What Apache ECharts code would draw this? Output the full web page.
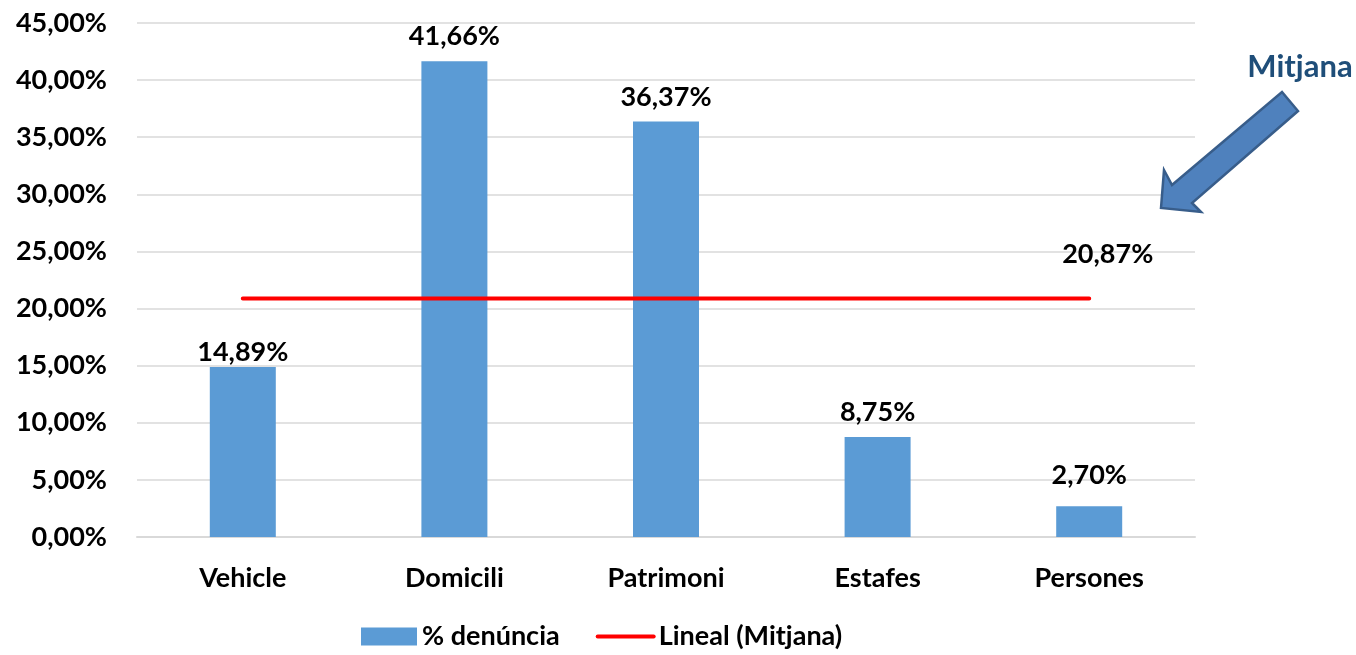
<!DOCTYPE html>
<html>
<head>
<meta charset="utf-8">
<script src="https://cdn.jsdelivr.net/npm/echarts@6/dist/echarts.min.js"></script>
<style>
  html, body { margin: 0; padding: 0; background: #fff; }
  #main { width: 1356px; height: 655px; }
</style>
</head>
<body>
<div id="main"></div>
<script>
var categories = ['Vehicle', 'Domicili', 'Patrimoni', 'Estafes', 'Persones'];
var denuncia = [14.89, 41.66, 36.37, 8.75, 2.70];
var mitjana = [20.87, 20.87, 20.87, 20.87, 20.87];

var FONT = 'Lato';
var FS = 27;

function pct(v){
    return v.toFixed(2).replace('.', ',') + '%';
}

// labels sit a bit differently above some bars (moved by hand in the original)
function labelGap(i){
    if (i === 0) return 1;
    if (i === 4) return 17;
    return 11;
}

var chart = echarts.init(document.getElementById('main'));

var option = {
    backgroundColor: '#fff',
    animation: false,
    textStyle: { fontFamily: FONT, fontWeight: 'bold', color: '#000' },
    grid: { left: 137, right: 161, top: 23, bottom: 118 },
    legend: {
        bottom: 0,
        left: 356,
        itemWidth: 56,
        itemHeight: 18,
        itemGap: 36,
        textStyle: { fontFamily: FONT, fontWeight: 'bold', fontSize: FS, color: '#000' },
        data: [
            { name: '% denúncia', icon: 'rect' },
            { name: 'Lineal (Mitjana)', itemStyle: { opacity: 0 }, lineStyle: { width: 4 } }
        ]
    },
    xAxis: {
        type: 'category',
        data: categories,
        axisTick: { show: false },
        axisLine: { lineStyle: { color: '#d9d9d9', width: 2 } },
        axisLabel: { margin: 28, fontSize: FS, fontWeight: 'bold', fontFamily: FONT, color: '#000' }
    },
    yAxis: {
        type: 'value',
        min: 0,
        max: 45,
        interval: 5,
        axisLine: { show: false },
        axisTick: { show: false },
        splitLine: { lineStyle: { color: '#d9d9d9', width: 1.5 } },
        axisLabel: {
            margin: 30,
            fontSize: FS,
            fontWeight: 'bold',
            fontFamily: FONT,
            color: '#000',
            formatter: function(v){ return pct(v); }
        }
    },
    series: [
        {
            name: '% denúncia',
            type: 'bar',
            data: denuncia.map(function(v, i){
                return { value: v, label: { distance: labelGap(i) } };
            }),
            barWidth: 66,
            itemStyle: { color: '#5b9bd5' },
            label: {
                show: true,
                position: 'top',
                fontSize: FS,
                fontWeight: 'bold',
                fontFamily: FONT,
                color: '#000',
                formatter: function(p){ return pct(p.value); }
            }
        },
        {
            name: 'Lineal (Mitjana)',
            type: 'line',
            data: mitjana,
            symbol: 'none',
            lineStyle: { color: '#ff0000', width: 4, cap: 'round' },
            itemStyle: { color: '#ff0000' },
            endLabel: {
                show: true,
                offset: [-35, -44],
                fontSize: FS,
                fontWeight: 'bold',
                fontFamily: FONT,
                color: '#000',
                formatter: function(p){ return pct(p.value); }
            },
            z: 3
        }
    ],
    graphic: [
        {
            type: 'polygon',
            shape: {
                points: [[1161, 208], [1164, 170], [1172, 185], [1282, 92],
                         [1298, 111], [1192, 203], [1201, 212]]
            },
            style: { fill: '#4f81bd', stroke: '#385d8a', lineWidth: 2.5 },
            z: 10
        },
        {
            type: 'text',
            x: 1300,
            y: 67,
            style: {
                text: 'Mitjana',
                fontFamily: FONT,
                fontWeight: 'bold',
                fontSize: 31,
                fill: '#1f4e79',
                align: 'center',
                verticalAlign: 'middle'
            },
            z: 10
        }
    ]
};

chart.setOption(option);
</script>
</body>
</html>
